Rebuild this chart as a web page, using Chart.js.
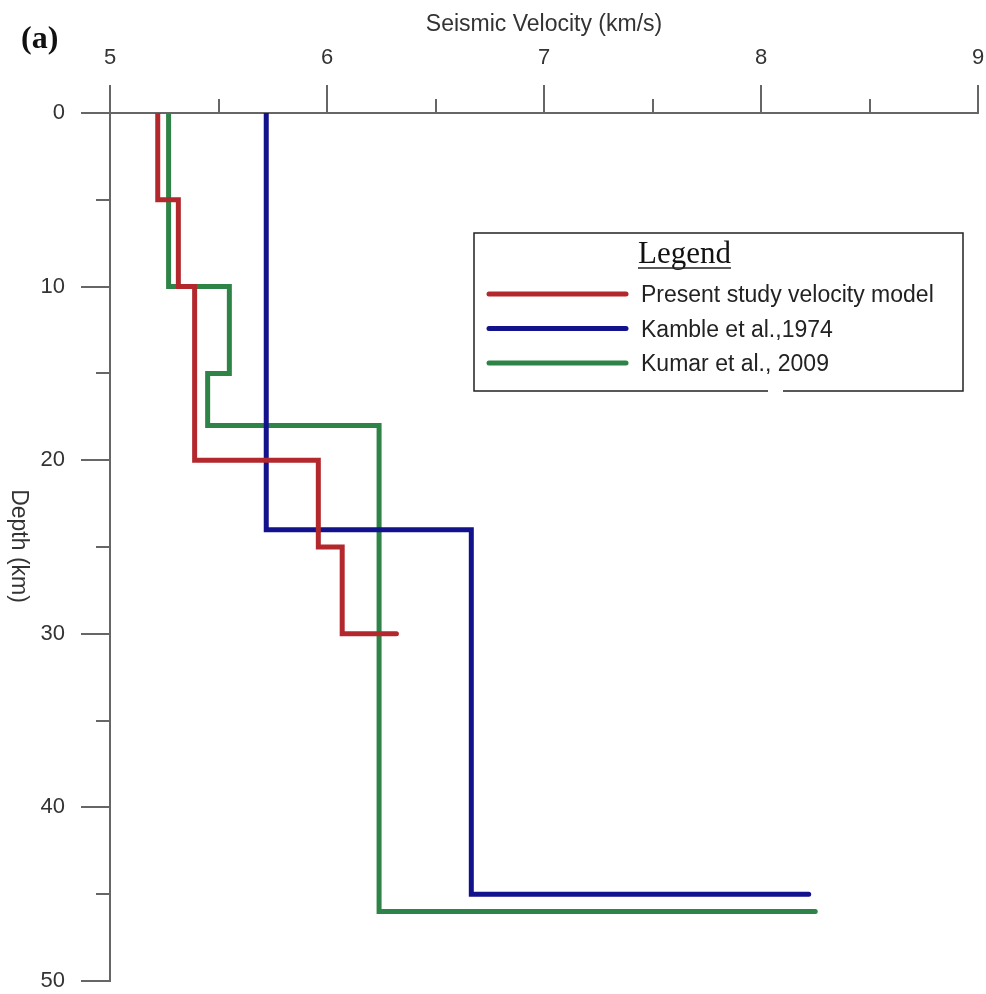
<!DOCTYPE html>
<html>
<head>
<meta charset="utf-8">
<script src="https://cdn.jsdelivr.net/npm/chart.js@4.4.1/dist/chart.umd.min.js"></script>
<style>
html, body { margin: 0; padding: 0; background: #fff; }
#wrap { position: relative; width: 986px; height: 994px; }
</style>
</head>
<body>
<div id="wrap"><canvas id="velChart" width="986" height="994"></canvas></div>
<script>
// step profiles: corner points, velocity (km/s) and depth (km)
const presentVel   = [5.22, 5.22, 5.315, 5.315, 5.39, 5.39, 5.96, 5.96, 6.07, 6.07, 6.32];
const presentDepth = [0, 5, 5, 10, 10, 20, 20, 25, 25, 30, 30];
const kambleVel    = [5.72, 5.72, 6.665, 6.665, 8.22];
const kambleDepth  = [0, 24, 24, 45, 45];
const kumarVel     = [5.27, 5.27, 5.55, 5.55, 5.45, 5.45, 6.24, 6.24, 8.25];
const kumarDepth   = [0, 10, 10, 15, 15, 18, 18, 46, 46];

const seriesNames  = ['Present study velocity model', 'Kamble et al.,1974', 'Kumar et al., 2009'];
const seriesColors = ['#b3282d', '#12128c', '#2e8446'];

// axis ticks
const velTicks        = [5, 6, 7, 8, 9];
const velMinorTicks   = [5.5, 6.5, 7.5, 8.5];
const depthTicks      = [0, 10, 20, 30, 40, 50];
const depthMinorTicks = [5, 15, 25, 35, 45];

const axisColor = '#666';

function toPoints(vel, depth) {
    return vel.map((v, i) => ({ x: v, y: depth[i] }));
}

function makeSet(idx, vel, depth) {
    return {
        label: seriesNames[idx],
        data: toPoints(vel, depth),
        showLine: true,
        borderColor: seriesColors[idx],
        backgroundColor: seriesColors[idx],
        borderWidth: 5,
        borderJoinStyle: 'miter',
        borderCapStyle: 'round',
        pointRadius: 0,
        fill: false
    };
}

// extra drawing: minor ticks, titles, panel label, legend box
const decorations = {
    id: 'decorations',
    afterDraw(chart) {
        const ctx = chart.ctx;
        const xs = chart.scales.x;
        const ys = chart.scales.y;
        const area = chart.chartArea;
        ctx.save();

        // minor ticks
        ctx.strokeStyle = axisColor;
        ctx.lineWidth = 2;
        velMinorTicks.forEach(v => {
            const px = Math.round(xs.getPixelForValue(v));
            ctx.beginPath();
            ctx.moveTo(px, area.top);
            ctx.lineTo(px, area.top - 14);
            ctx.stroke();
        });
        depthMinorTicks.forEach(d => {
            const py = Math.round(ys.getPixelForValue(d));
            ctx.beginPath();
            ctx.moveTo(area.left, py);
            ctx.lineTo(area.left - 14, py);
            ctx.stroke();
        });

        // x title
        ctx.fillStyle = '#333';
        ctx.font = '23px Arial, "Liberation Sans", sans-serif';
        ctx.textAlign = 'center';
        ctx.textBaseline = 'alphabetic';
        ctx.fillText('Seismic Velocity (km/s)', (area.left + area.right) / 2, 31);

        // y title, reading top to bottom
        ctx.save();
        ctx.translate(12, 546);
        ctx.rotate(Math.PI / 2);
        ctx.fillText('Depth (km)', 0, 0);
        ctx.restore();

        // panel label
        ctx.fillStyle = '#111';
        ctx.font = 'bold 32px "Times New Roman", "Liberation Serif", serif';
        ctx.textAlign = 'left';
        ctx.fillText('(a)', 21, 48);

        // legend box (the scan has a small break in the bottom edge)
        const bx = 474, by = 233, bw = 489, bh = 158;
        ctx.strokeStyle = '#222';
        ctx.lineWidth = 1.5;
        ctx.beginPath();
        ctx.moveTo(768, by + bh);
        ctx.lineTo(bx, by + bh);
        ctx.lineTo(bx, by);
        ctx.lineTo(bx + bw, by);
        ctx.lineTo(bx + bw, by + bh);
        ctx.lineTo(783, by + bh);
        ctx.stroke();

        ctx.fillStyle = '#111';
        ctx.font = '31px "Times New Roman", "Liberation Serif", serif';
        ctx.fillText('Legend', 638, 263);
        const lw = ctx.measureText('Legend').width;
        ctx.lineWidth = 1.5;
        ctx.beginPath();
        ctx.moveTo(638, 268);
        ctx.lineTo(638 + lw, 268);
        ctx.stroke();

        chart.data.datasets.forEach((ds, i) => {
            const ly = 294 + i * 34.5;
            ctx.strokeStyle = ds.borderColor;
            ctx.lineWidth = 5;
            ctx.lineCap = 'round';
            ctx.beginPath();
            ctx.moveTo(489, ly);
            ctx.lineTo(626, ly);
            ctx.stroke();
            ctx.fillStyle = '#222';
            ctx.font = '23px Arial, "Liberation Sans", sans-serif';
            ctx.fillText(ds.label, 641, ly + 8);
        });

        ctx.restore();
    }
};

function renderChart() {
    const ctx = document.getElementById('velChart').getContext('2d');
    new Chart(ctx, {
        type: 'scatter',
        data: {
            datasets: [
                makeSet(0, presentVel, presentDepth),
                makeSet(1, kambleVel, kambleDepth),
                makeSet(2, kumarVel, kumarDepth)
            ]
        },
        options: {
            responsive: false,
            animation: false,
            layout: { padding: { top: 0, left: 0, right: 8, bottom: 13 } },
            plugins: {
                legend: { display: false },
                tooltip: { enabled: false }
            },
            scales: {
                x: {
                    type: 'linear',
                    position: 'top',
                    min: 5,
                    max: 9,
                    afterBuildTicks: s => { s.ticks = velTicks.map(v => ({ value: v })); },
                    afterFit: s => { s.height = 113; s.paddingLeft = 0; s.paddingRight = 0; },
                    ticks: {
                        color: '#333',
                        font: { family: 'Arial, "Liberation Sans", sans-serif', size: 22 },
                        padding: 14,
                        maxRotation: 0
                    },
                    grid: {
                        drawOnChartArea: false,
                        tickLength: 28,
                        color: axisColor,
                        lineWidth: 2
                    },
                    border: { color: axisColor, width: 2 }
                },
                y: {
                    type: 'linear',
                    position: 'left',
                    reverse: true,
                    min: 0,
                    max: 50,
                    afterBuildTicks: s => { s.ticks = depthTicks.map(v => ({ value: v })); },
                    afterFit: s => { s.width = 110; s.paddingTop = 0; s.paddingBottom = 0; },
                    ticks: {
                        color: '#333',
                        font: { family: 'Arial, "Liberation Sans", sans-serif', size: 22 },
                        padding: 16
                    },
                    grid: {
                        drawOnChartArea: false,
                        tickLength: 29,
                        color: axisColor,
                        lineWidth: 2
                    },
                    border: { color: axisColor, width: 2 }
                }
            }
        },
        plugins: [decorations]
    });
}

window.onload = function () {
    renderChart();
};
</script>
</body>
</html>
